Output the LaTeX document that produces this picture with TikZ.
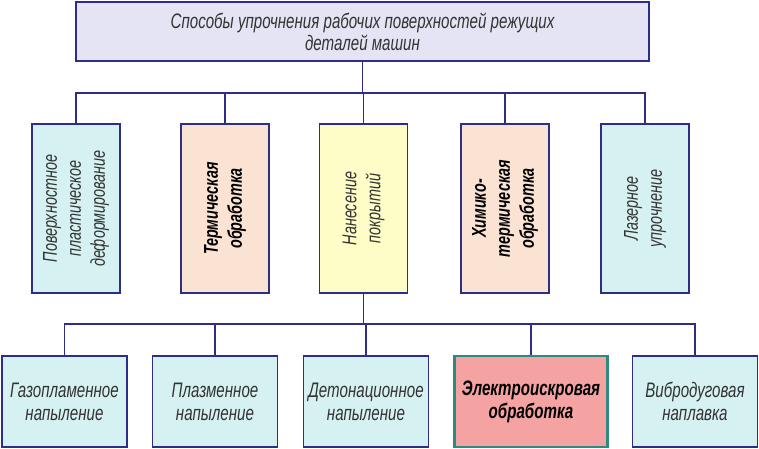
\documentclass[tikz,border=0pt]{standalone}
\usepackage{fontspec}
\setmainfont[FakeStretch=0.72]{Liberation Sans}
\definecolor{navy}{HTML}{2E2E88}
\definecolor{tealedge}{HTML}{2C8A80}
\definecolor{lavender}{HTML}{E4E4F4}
\definecolor{paleblue}{HTML}{D6F1F2}
\definecolor{peach}{HTML}{FBE3D3}
\definecolor{paleyellow}{HTML}{FEFDC8}
\definecolor{rose}{HTML}{F4A3A2}
\begin{document}
\begin{tikzpicture}[x=1pt,y=-1pt]
	\tikzset{
		box/.style={draw=navy, line width=1.6pt, inner sep=0pt, font=\itshape\fontsize{21}{23}\selectfont, text=black!80, align=center},
		vbox/.style={box, minimum width=88pt, minimum height=169pt},
		hbox/.style={box, minimum width=125pt, minimum height=91pt},
		vtext/.style={rotate=90, align=center, text=black!80, font=\itshape\fontsize{20}{24}\selectfont},
		wire/.style={draw=navy, line width=1.4pt}
	}
	\useasboundingbox (0,0) rectangle (759,448);
	% top
	\node[box, fill=lavender, minimum width=573pt, minimum height=59pt, font=\itshape\fontsize{21}{22}\selectfont] (top) at (362.5,31.5) {Способы упрочнения рабочих поверхностей режущих\\деталей машин};
	% middle row
	\node[vbox, fill=paleblue] (m1) at (76,208.5) {};
	\node[vbox, fill=peach] (m2) at (225,208.5) {};
	\node[vbox, fill=paleyellow] (m3) at (363.5,208.5) {};
	\node[vbox, fill=peach] (m4) at (505,208.5) {};
	\node[vbox, fill=paleblue] (m5) at (645,208.5) {};
	\node[vtext] (t1) at (m1) {Поверхностное\\пластическое\\деформирование};
	\node[vtext, text=black, font=\bfseries\itshape\fontsize{20}{24}\selectfont] (t2) at (m2) {Термическая\\обработка};
	\node[vtext] (t3) at (m3) {Нанесение\\покрытий};
	\node[vtext, text=black, font=\bfseries\itshape\fontsize{20}{24}\selectfont] (t4) at (m4) {Химико-\\термическая\\обработка};
	\node[vtext] (t5) at (m5) {Лазерное\\упрочнение};
	% bottom row
	\node[hbox, fill=paleblue] (b1) at (64.5,401.5) {Газопламенное\\напыление};
	\node[hbox, fill=paleblue] (b2) at (215,401.5) {Плазменное\\напыление};
	\node[hbox, fill=paleblue] (b3) at (366,401.5) {Детонационное\\напыление};
	\node[hbox, fill=rose, draw=tealedge, line width=2.6pt, minimum width=153pt, font=\bfseries\itshape\fontsize{21}{23}\selectfont, text=black] (b4) at (531,401.5) {Электроискровая\\обработка};
	\node[hbox, fill=paleblue] (b5) at (695,401.5) {Вибродуговая\\наплавка};
	% wires
	\coordinate (bus1) at (0,93);
	\coordinate (bus2) at (0,324);
	\draw[wire] (top.south) -- (top.south |- bus1);
	\draw[wire] (m1.north) -- (m1.north |- bus1) -- (m5.north |- bus1) -- (m5.north);
	\foreach \n in {m2,m3,m4}
		\draw[wire] (\n.north) -- (\n.north |- bus1);
	\draw[wire] (m3.south) -- (m3.south |- bus2);
	\draw[wire] (b1.north) -- (b1.north |- bus2) -- (b5.north |- bus2) -- (b5.north);
	\foreach \n in {b2,b3,b4}
		\draw[wire] (\n.north) -- (\n.north |- bus2);
\end{tikzpicture}
\end{document}
